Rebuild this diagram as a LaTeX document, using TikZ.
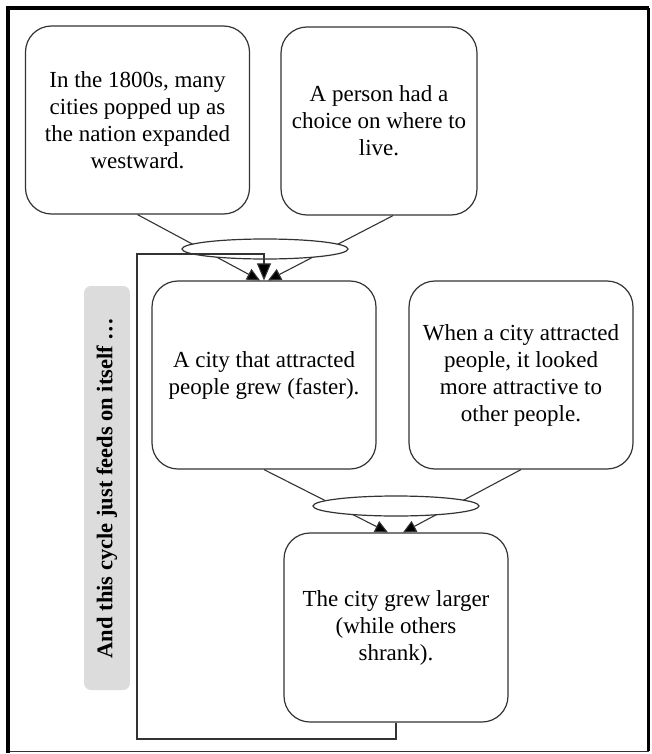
\documentclass[tikz,border=0pt]{standalone}
\usepackage{fontspec}
\setmainfont{Liberation Serif}
\newfontfamily\boxserif{Liberation Serif}
\usetikzlibrary{arrows.meta,shapes.geometric}
\definecolor{edge}{HTML}{333333}
\definecolor{sidegray}{HTML}{DCDCDC}
\tikzset{
  box/.style={draw=edge, line width=1.2pt, rounded corners=26pt, fill=white,
    minimum width=224pt, minimum height=188pt, align=center, inner sep=0pt,
    font=\boxserif\fontsize{23}{27}\selectfont},
  junction/.style={ellipse, draw=edge, line width=1.2pt, fill=white,
    minimum width=166pt, minimum height=20pt, inner sep=0pt},
  conn/.style={draw=edge, line width=1.1pt, -{Triangle[length=13pt,width=12pt,fill=black]}},
  bigconn/.style={draw=edge, line width=1.1pt, -{Triangle[length=17pt,width=14pt,fill=black]}},
  sidelabel/.style={fill=sidegray, rounded corners=7pt, minimum width=404pt,
    minimum height=46pt, inner sep=0pt, rotate=90,
    font=\boxserif\fontsize{22.5}{26}\selectfont\bfseries}
}
\begin{document}
\begin{tikzpicture}[x=1pt,y=-1pt]
\useasboundingbox (0,0) rectangle (651,754);
% frame
\draw[line width=1pt, black!80] (8,9) rectangle (648.5,751.5);
\draw[line width=4pt] (8,753) -- (8,8) -- (649,8);
\draw[line width=2.5pt] (648.5,8) -- (648.5,751);

% boxes
\node[box] (A) at (137.5,120) {In the 1800s, many\\cities popped up as\\the nation expanded\\westward.};
\node[box, minimum width=196pt] (B) at (379,121) {A person had a\\choice on where to\\live.};
\node[box] (C) at (264,375) {A city that attracted\\people grew (faster).};
\node[box] (D) at (521,375) {When a city attracted\\people, it looked\\more attractive to\\other people.};
\node[box, minimum height=189pt] (E) at (396,627.5) {The city grew larger\\(while others\\shrank).};

% connectors through junctions
\draw[conn] (A.south) -- ([xshift=-4pt]C.north);
\draw[conn] ([xshift=14pt]B.south) -- ([xshift=4pt]C.north);
\draw[conn] (C.south) -- ([xshift=-8pt]E.north);
\draw[conn] (D.south) -- ([xshift=7pt]E.north);

\node[junction] (J1) at (265,249) {};
\node[junction] (J2) at (396,506) {};

% feedback loop
\coordinate (loopB) at (137,739);
\coordinate (loopT) at (137,254);
\draw[bigconn] (E.south) |- (loopB) -- (loopT) -| (C.north);

% side label
\node[sidelabel] (S) at (107,488) {And this cycle just feeds on itself …};
\end{tikzpicture}
\end{document}
